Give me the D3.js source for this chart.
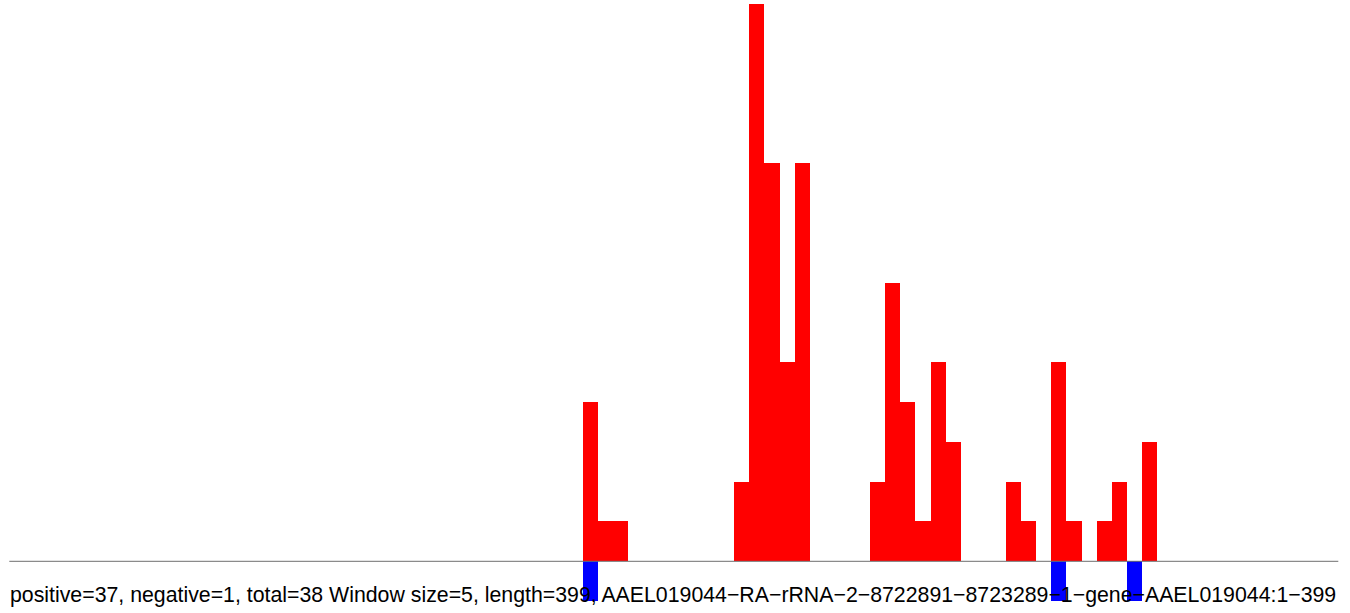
<!DOCTYPE html>
<html>
<head>
<meta charset="utf-8">
<script src="https://cdn.jsdelivr.net/npm/d3@7"></script>
<style>
  html, body { margin: 0; padding: 0; background: #fff; }
  svg { display: block; }
</style>
</head>
<body>
<svg id="chart" width="1350" height="613"></svg>
<script>
// Window size 5 over a 399 nt sequence -> 80 windows (index 0..79)
const windowSize = 5;
const seqLength = 399;
const windowCount = 80;

// Positive counts per window (window index -> count)
const positiveWindows = [34, 35, 36, 44, 45, 46, 47, 48, 53, 54, 55, 56, 57, 58, 62, 63, 65, 66, 68, 69, 71];
const positiveValues  = [ 4,  1,  1,  2, 14, 10,  5, 10,  2,  7,  4,  1,  5,  3,  2,  1,  5,  1,  1,  2,  3];

// Negative counts per window
const negativeWindows = [34, 65, 70];
const negativeValues  = [-1, -1, -1];

const captionText = "positive=37, negative=1, total=38 Window size=5, length=399, AAEL019044\u2212RA\u2212rRNA\u22122\u22128722891\u22128723289\u22121\u2212gene\u2212AAEL019044:1\u2212399";

const svg = d3.select("#chart");

// x in nucleotide units: windows cover [0, 400], padded 20 on both sides
const x = d3.scaleLinear()
  .domain([-20, windowCount * windowSize + 20])
  .range([9.3, 1338.3]);

const y = d3.scaleLinear()
  .domain([0, 14])
  .range([561.3, 4]);

const pos = positiveWindows.map((w, i) => ({ w, v: positiveValues[i] }));
const neg = negativeWindows.map((w, i) => ({ w, v: negativeValues[i] }));

svg.append("g").selectAll("rect")
  .data(pos)
  .join("rect")
  .attr("x", d => x(d.w * windowSize))
  .attr("width", d => x((d.w + 1) * windowSize) - x(d.w * windowSize))
  .attr("y", d => y(d.v))
  .attr("height", d => y(0) - y(d.v))
  .attr("fill", "#ff0000")
  .attr("shape-rendering", "crispEdges");

svg.append("g").selectAll("rect")
  .data(neg)
  .join("rect")
  .attr("x", d => x(d.w * windowSize))
  .attr("width", d => x((d.w + 1) * windowSize) - x(d.w * windowSize))
  .attr("y", y(0))
  .attr("height", d => y(d.v) - y(0))
  .attr("fill", "#0000ff")
  .attr("shape-rendering", "crispEdges");

// baseline
svg.append("line")
  .attr("x1", x.range()[0])
  .attr("x2", x.range()[1])
  .attr("y1", y(0))
  .attr("y2", y(0))
  .attr("stroke", "#6e6e6e")
  .attr("stroke-width", 1);

svg.append("text")
  .attr("x", 10)
  .attr("y", 602)
  .attr("font-family", "'Liberation Sans', Arial, sans-serif")
  .attr("font-size", "21.3px")
  .attr("fill", "#000")
  .text(captionText);
</script>
</body>
</html>
